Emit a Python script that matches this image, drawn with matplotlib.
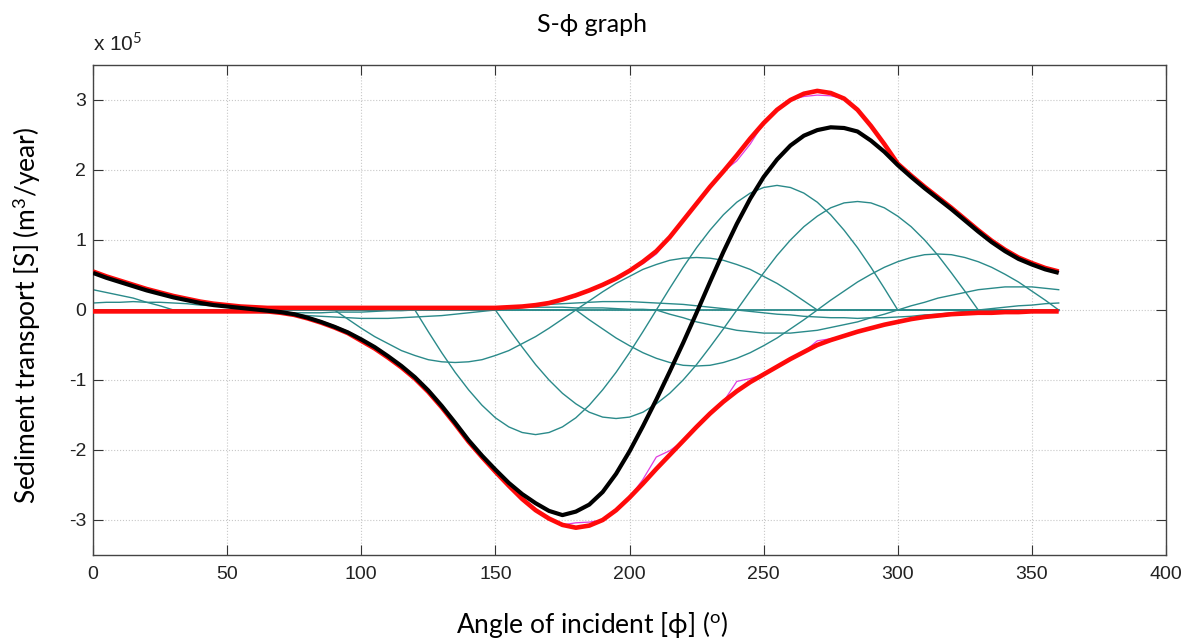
import numpy as np
import matplotlib
matplotlib.use('Agg')
import matplotlib.pyplot as plt
from matplotlib import font_manager

# angle of incidence (deg), 5 deg steps from 0 to 360
angle = np.arange(0, 361, 5)

# net sediment transport (x 1e5 m3/year)
s_total = [0.53, 0.46, 0.40, 0.34, 0.28, 0.23, 0.18, 0.14, 0.10, 0.07,
           0.05, 0.03, 0.01, -0.01, -0.03, -0.06, -0.11, -0.17, -0.24, -0.32,
           -0.42, -0.53, -0.66, -0.80, -0.96, -1.15, -1.37, -1.61, -1.86, -2.08,
           -2.28, -2.47, -2.63, -2.76, -2.87, -2.93, -2.88, -2.78, -2.60, -2.34,
           -2.02, -1.66, -1.28, -0.88, -0.47, -0.04, 0.40, 0.83, 1.23, 1.59,
           1.90, 2.15, 2.35, 2.49, 2.57, 2.61, 2.60, 2.55, 2.42, 2.26,
           2.07, 1.90, 1.74, 1.59, 1.44, 1.28, 1.12, 0.97, 0.84, 0.73,
           0.65, 0.58, 0.53]

# envelopes
s_upper = [0.55, 0.48, 0.42, 0.36, 0.30, 0.25, 0.20, 0.16, 0.12, 0.09,
           0.07, 0.05, 0.04, 0.03, 0.03, 0.03, 0.03, 0.03, 0.03, 0.03,
           0.03, 0.03, 0.03, 0.03, 0.03, 0.03, 0.03, 0.03, 0.03, 0.03,
           0.03, 0.04, 0.05, 0.07, 0.10, 0.15, 0.21, 0.28, 0.36, 0.45,
           0.56, 0.69, 0.84, 1.04, 1.28, 1.52, 1.76, 1.98, 2.21, 2.45,
           2.67, 2.86, 3.00, 3.09, 3.13, 3.10, 3.02, 2.86, 2.63, 2.37,
           2.09, 1.92, 1.76, 1.61, 1.46, 1.30, 1.14, 0.99, 0.86, 0.75,
           0.67, 0.60, 0.55]
s_lower = [-0.02, -0.02, -0.02, -0.02, -0.02, -0.02, -0.02, -0.02, -0.02, -0.02,
           -0.02, -0.02, -0.02, -0.02, -0.04, -0.07, -0.12, -0.18, -0.25, -0.33,
           -0.44, -0.55, -0.68, -0.82, -0.98, -1.17, -1.39, -1.63, -1.88, -2.10,
           -2.31, -2.51, -2.70, -2.86, -2.98, -3.07, -3.11, -3.08, -3.00, -2.86,
           -2.68, -2.48, -2.27, -2.07, -1.87, -1.67, -1.48, -1.31, -1.16, -1.03,
           -0.92, -0.81, -0.70, -0.60, -0.50, -0.43, -0.37, -0.31, -0.26, -0.21,
           -0.17, -0.13, -0.10, -0.08, -0.06, -0.05, -0.04, -0.04, -0.03, -0.03,
           -0.02, -0.02, -0.02]
# coarse envelopes (thin magenta)
m_upper = [0.55, 0.48, 0.42, 0.36, 0.30, 0.25, 0.20, 0.16, 0.12, 0.09,
           0.07, 0.05, 0.04, 0.03, 0.03, 0.03, 0.03, 0.03, 0.03, 0.03,
           0.03, 0.03, 0.03, 0.03, 0.03, 0.03, 0.03, 0.03, 0.03, 0.03,
           0.03, 0.04, 0.05, 0.07, 0.10, 0.14, 0.19, 0.28, 0.36, 0.45,
           0.56, 0.66, 0.80, 1.04, 1.28, 1.52, 1.76, 1.98, 2.13, 2.37,
           2.67, 2.86, 3.00, 3.05, 3.07, 3.06, 3.02, 2.86, 2.63, 2.37,
           2.09, 1.92, 1.76, 1.61, 1.46, 1.30, 1.14, 0.99, 0.86, 0.75,
           0.67, 0.60, 0.55]
m_lower = [-0.02, -0.02, -0.02, -0.02, -0.02, -0.02, -0.02, -0.02, -0.02, -0.02,
           -0.02, -0.02, -0.02, -0.02, -0.04, -0.07, -0.12, -0.18, -0.25, -0.33,
           -0.44, -0.55, -0.68, -0.82, -0.98, -1.17, -1.39, -1.63, -1.88, -2.10,
           -2.31, -2.51, -2.70, -2.86, -2.98, -3.07, -3.04, -3.03, -3.00, -2.86,
           -2.68, -2.42, -2.10, -2.01, -1.87, -1.67, -1.48, -1.31, -1.02, -0.98,
           -0.92, -0.81, -0.70, -0.60, -0.44, -0.41, -0.37, -0.31, -0.26, -0.21,
           -0.17, -0.13, -0.10, -0.08, -0.06, -0.05, -0.04, -0.04, -0.03, -0.03,
           -0.02, -0.02, -0.02]

# transport per wave direction class
s_dir120 = [0, 0, 0, 0, 0, 0, 0, -0.01, -0.01, -0.02,
            -0.03, -0.03, -0.03, -0.04, -0.04, -0.04, -0.04, -0.04, -0.03, -0.03,
            -0.03, -0.02, -0.01, -0.01, 0, 0.01, 0.01, 0.02, 0.03, 0.03,
            0.03, 0.04, 0.04, 0.04, 0.04, 0.04, 0.03, 0.03, 0.03, 0.02,
            0.01, 0.01, 0, 0, 0, 0, 0, 0, 0, 0,
            0, 0, 0, 0, 0, 0, 0, 0, 0, 0,
            0, 0, 0, 0, 0, 0, 0, 0, 0, 0,
            0, 0, 0]
s_dir150 = [0, 0, 0, 0, 0, 0, 0, 0, 0, 0,
            0, 0, 0, -0.02, -0.04, -0.06, -0.08, -0.09, -0.10, -0.11,
            -0.12, -0.12, -0.12, -0.11, -0.10, -0.09, -0.08, -0.06, -0.04, -0.02,
            0, 0.02, 0.04, 0.06, 0.08, 0.09, 0.10, 0.11, 0.12, 0.12,
            0.12, 0.11, 0.10, 0.09, 0.08, 0.06, 0.04, 0.02, 0, 0,
            0, 0, 0, 0, 0, 0, 0, 0, 0, 0,
            0, 0, 0, 0, 0, 0, 0, 0, 0, 0,
            0, 0, 0]
s_dir180 = [0, 0, 0, 0, 0, 0, 0, 0, 0, 0,
            0, 0, 0, 0, 0, 0, 0, 0, 0, -0.13,
            -0.26, -0.38, -0.48, -0.58, -0.65, -0.71, -0.74, -0.75, -0.74, -0.71,
            -0.65, -0.58, -0.48, -0.38, -0.26, -0.13, 0, 0.13, 0.26, 0.38,
            0.48, 0.58, 0.65, 0.71, 0.74, 0.75, 0.74, 0.71, 0.65, 0.58,
            0.48, 0.38, 0.26, 0.13, 0, 0, 0, 0, 0, 0,
            0, 0, 0, 0, 0, 0, 0, 0, 0, 0,
            0, 0, 0]
s_dir210 = [0, 0, 0, 0, 0, 0, 0, 0, 0, 0,
            0, 0, 0, 0, 0, 0, 0, 0, 0, 0,
            0, 0, 0, 0, 0, -0.31, -0.61, -0.89, -1.14, -1.36,
            -1.54, -1.67, -1.75, -1.78, -1.75, -1.67, -1.54, -1.36, -1.14, -0.89,
            -0.61, -0.31, 0, 0.31, 0.61, 0.89, 1.14, 1.36, 1.54, 1.67,
            1.75, 1.78, 1.75, 1.67, 1.54, 1.36, 1.14, 0.89, 0.61, 0.31,
            0, 0, 0, 0, 0, 0, 0, 0, 0, 0,
            0, 0, 0]
s_dir240 = [0, 0, 0, 0, 0, 0, 0, 0, 0, 0,
            0, 0, 0, 0, 0, 0, 0, 0, 0, 0,
            0, 0, 0, 0, 0, 0, 0, 0, 0, 0,
            0, -0.27, -0.53, -0.78, -1.00, -1.19, -1.34, -1.46, -1.53, -1.55,
            -1.53, -1.46, -1.34, -1.19, -1.00, -0.78, -0.53, -0.27, 0, 0.27,
            0.53, 0.78, 1.00, 1.19, 1.34, 1.46, 1.53, 1.55, 1.53, 1.46,
            1.34, 1.19, 1.00, 0.78, 0.53, 0.27, 0, 0, 0, 0,
            0, 0, 0]
s_dir270 = [0, 0, 0, 0, 0, 0, 0, 0, 0, 0,
            0, 0, 0, 0, 0, 0, 0, 0, 0, 0,
            0, 0, 0, 0, 0, 0, 0, 0, 0, 0,
            0, 0, 0, 0, 0, 0, 0, -0.14, -0.27, -0.40,
            -0.51, -0.61, -0.69, -0.75, -0.79, -0.80, -0.79, -0.75, -0.69, -0.61,
            -0.51, -0.40, -0.27, -0.14, 0, 0.14, 0.27, 0.40, 0.51, 0.61,
            0.69, 0.75, 0.79, 0.80, 0.79, 0.75, 0.69, 0.61, 0.51, 0.40,
            0.27, 0.14, 0]
s_dir300 = [0.29, 0.25, 0.21, 0.17, 0.11, 0.06, 0, 0, 0, 0,
            0, 0, 0, 0, 0, 0, 0, 0, 0, 0,
            0, 0, 0, 0, 0, 0, 0, 0, 0, 0,
            0, 0, 0, 0, 0, 0, 0, 0, 0, 0,
            0, 0, 0, -0.06, -0.11, -0.17, -0.21, -0.25, -0.29, -0.31,
            -0.33, -0.33, -0.33, -0.31, -0.29, -0.25, -0.21, -0.17, -0.11, -0.06,
            0, 0.06, 0.11, 0.17, 0.21, 0.25, 0.29, 0.31, 0.33, 0.33,
            0.33, 0.31, 0.29]
s_dir330 = [0.10, 0.11, 0.11, 0.12, 0.11, 0.11, 0.10, 0.09, 0.07, 0.06,
            0.04, 0.02, 0, 0, 0, 0, 0, 0, 0, 0,
            0, 0, 0, 0, 0, 0, 0, 0, 0, 0,
            0, 0, 0, 0, 0, 0, 0, 0, 0, 0,
            0, 0, 0, 0, 0, 0, 0, 0, 0, -0.02,
            -0.04, -0.06, -0.07, -0.09, -0.10, -0.11, -0.11, -0.12, -0.11, -0.11,
            -0.10, -0.09, -0.07, -0.06, -0.04, -0.02, 0, 0.02, 0.04, 0.06,
            0.07, 0.09, 0.10]
s_dirs = [s_dir120, s_dir150, s_dir180, s_dir210, s_dir240, s_dir270, s_dir300, s_dir330]

x_ticks = [0, 50, 100, 150, 200, 250, 300, 350, 400]
y_ticks = [-3, -2, -1, 0, 1, 2, 3]

names = {f.name for f in font_manager.fontManager.ttflist}
tick_font = 'Liberation Sans Narrow' if 'Liberation Sans Narrow' in names else 'Liberation Sans'
label_font = ['Lato', 'DejaVu Sans']

plt.rcParams['axes.unicode_minus'] = False
plt.rcParams['mathtext.fontset'] = 'custom'
plt.rcParams['mathtext.rm'] = 'Lato'
plt.rcParams['mathtext.it'] = 'Lato:italic'

W, H = 1194, 643
fig = plt.figure(figsize=(W / 100, H / 100), dpi=100)
ax = fig.add_axes([93 / W, 1 - 555 / H, (1166 - 93) / W, (555 - 65) / H])

for s in s_dirs:
    ax.plot(angle, s, color='#2a8a8a', lw=1.0, zorder=2)
ax.plot(angle, m_upper, color='#e03ce0', lw=0.9, zorder=3)
ax.plot(angle, m_lower, color='#e03ce0', lw=0.9, zorder=3)
ax.plot(angle, s_upper, color='#ff0a0a', lw=3.3, zorder=4, solid_capstyle='butt')
ax.plot(angle, s_lower, color='#ff0a0a', lw=3.3, zorder=4, solid_capstyle='butt')
ax.plot(angle, s_total, color='black', lw=3.0, zorder=5, solid_capstyle='butt')

ax.set_xlim(0, 400)
ax.set_ylim(-3.5, 3.5)
ax.set_xticks(x_ticks)
ax.set_yticks(y_ticks)
ax.set_xticklabels([str(v) for v in x_ticks], family=tick_font, fontsize=14)
ax.set_yticklabels([str(v) for v in y_ticks], family=tick_font, fontsize=14)
ax.tick_params(direction='in', length=7.5, width=0.8, color='#333333',
               top=True, right=True, labelcolor='#222222')
ax.tick_params(axis='x', pad=8)
ax.tick_params(axis='y', pad=5)
ax.grid(True, linestyle=':', color='#c8c8c8', lw=0.8)
ax.set_axisbelow(True)
for sp in ax.spines.values():
    sp.set_color('#444444')
    sp.set_linewidth(1.0)

ax.text(0, 1.02, 'x 10$^{5}$', transform=ax.transAxes, ha='left', va='bottom',
        family=tick_font, fontsize=15, color='#222222')
fig.text(592 / W, 1 - 24 / H, 'S-\u03d5 graph', ha='center', va='center',
         family=label_font, fontsize=18)
fig.text(592 / W, 1 - 624 / H, 'Angle of incident [\u03d5] ($^{\\mathrm{o}}$)',
         ha='center', va='center', family=label_font, fontsize=19)
fig.text(27 / W, 1 - 315 / H, 'Sediment transport [S] (m$^{3}$/year)', rotation=90,
         ha='center', va='center', family=label_font, fontsize=19)

fig.savefig('out.png', dpi=100)
plt.close(fig)
